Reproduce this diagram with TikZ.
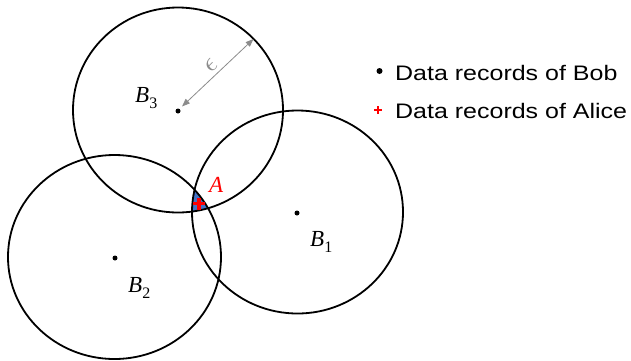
\documentclass[tikz,border=0pt]{standalone}
\usepackage{fontspec}
\newfontfamily\legendfont{Liberation Sans}
\newfontfamily\lblfont{Liberation Serif}
\usetikzlibrary{arrows.meta}
\definecolor{fillblue}{HTML}{4472C4}
\definecolor{arrgray}{HTML}{8C8C8C}
\definecolor{markred}{HTML}{FF0000}
\newcommand{\lblvar}[2]{{\lblfont\fontsize{23}{23}\selectfont\itshape #1\raisebox{-6pt}{\fontsize{16}{16}\selectfont\upshape #2}}}
\begin{document}
\begin{tikzpicture}[x=1pt,y=-1pt,
  ring/.style={draw=black, line width=1.8pt},
  dot/.style={circle, fill=black, inner sep=0pt, minimum size=5pt},
  legdot/.style={circle, fill=black, inner sep=0pt, minimum size=6pt},
  mathlbl/.style={inner sep=0pt, anchor=base west},
  legendtxt/.style={font=\legendfont\fontsize{21}{21}\selectfont, inner sep=0pt, anchor=base west},
  epsarrow/.style={draw=arrgray, line width=0.8pt, {Triangle[length=8pt,width=6pt]}-{Triangle[length=8pt,width=6pt]}},
  pluspic/.pic={\fill[markred] (-6,-1.8) rectangle (6,1.8); \fill[markred] (-1.8,-6) rectangle (1.8,6);}
]
\useasboundingbox (0,0) rectangle (631,360);
\fill[white] (0,0) rectangle (631,360);

% triple intersection
\begin{scope}
  \clip (178,110) ellipse [x radius=105, y radius=102.5];
  \clip (297.5,212) ellipse [x radius=105.5, y radius=101.5];
  \fill[fillblue] (114.5,257) ellipse [x radius=106.5, y radius=102];
\end{scope}

% circles
\draw[ring] (178,110) ellipse [x radius=105, y radius=102.5];
\draw[ring] (297.5,212) ellipse [x radius=105.5, y radius=101.5];
\draw[ring] (114.5,257) ellipse [x radius=106.5, y radius=102];

% centres
\node[dot] (b3) at (178,111) {};
\node[dot] (b1) at (297,213) {};
\node[dot] (b2) at (115,258) {};

% labels
\node[mathlbl] (l3) at (135,102.5) {\lblvar{B}{3}};
\node[mathlbl] (l1) at (310,246) {\lblvar{B}{1}};
\node[mathlbl] (l2) at (128,292) {\lblvar{B}{2}};
\node[mathlbl, text=markred] (la) at (209,192.5) {\lblvar{A}{}};

% point A
\pic at (199,203.5) {pluspic};
\coordinate (a) at (199,203.5);

% epsilon radius
\coordinate (e1) at (182,106.5);
\coordinate (e2) at (253.5,39);
\draw[epsarrow] (e1) -- (e2);
\node[rotate=45, text=arrgray, inner sep=0pt] (eps) at (211,66) {\scalebox{2.7}{$\epsilon$}};

% legend
\node[legdot] (lb) at (379.5,71) {};
\node[legendtxt] (t1) at (395,80) {\scalebox{1.19}[1]{Data records of Bob}};
\pic[scale=0.7] at (378,110) {pluspic};
\coordinate (lp) at (378,110);
\node[legendtxt] (t2) at (395,118.5) {\scalebox{1.19}[1]{Data records of Alice}};
\end{tikzpicture}
\end{document}
